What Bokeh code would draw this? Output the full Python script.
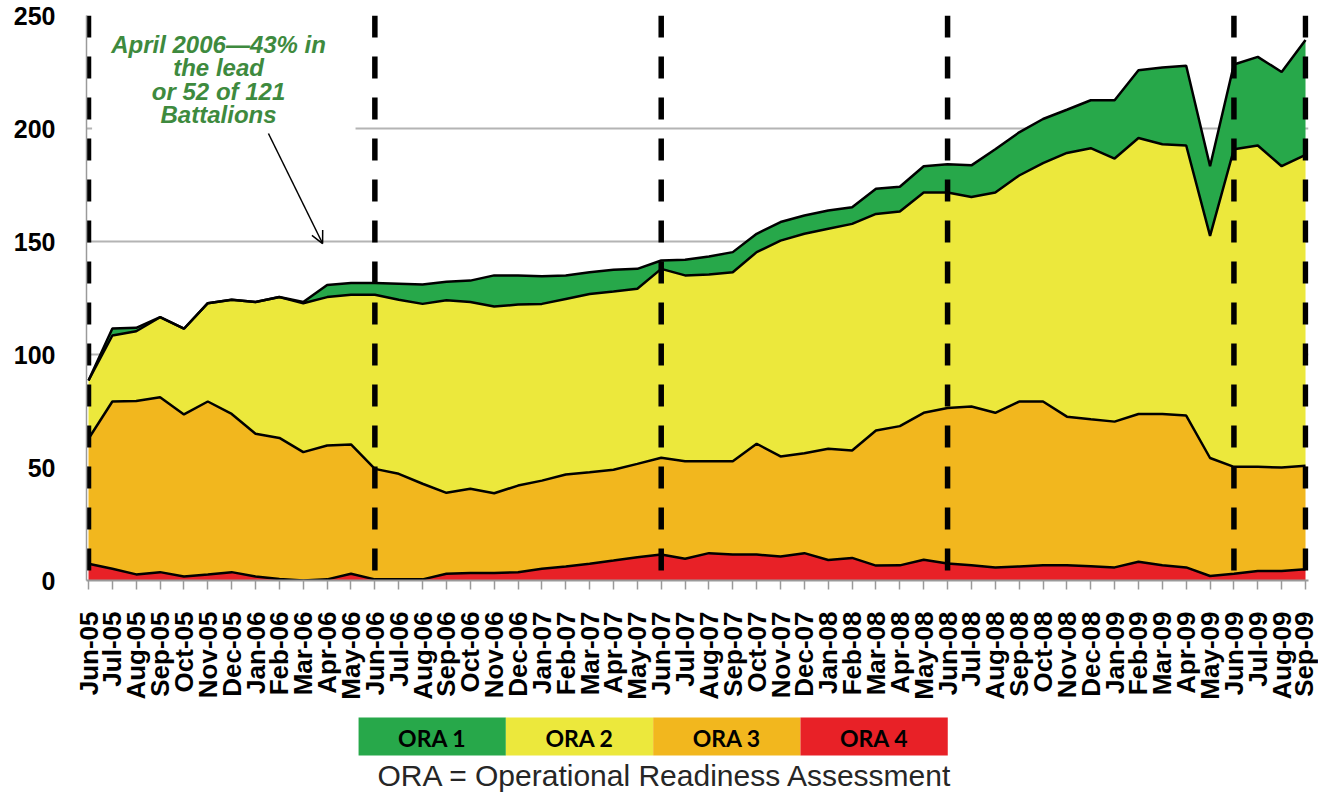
import math
import numpy as np
from bokeh.plotting import figure
from bokeh.layouts import column
from bokeh.models import Range1d, FixedTicker, ColumnDataSource, Arrow, OpenHead, BoxAnnotation
from bokeh.core.properties import value
from bokeh.embed import file_html
from bokeh.resources import INLINE

# ---------------- data ----------------
months = ["Jun-05", "Jul-05", "Aug-05", "Sep-05", "Oct-05", "Nov-05", "Dec-05",
          "Jan-06", "Feb-06", "Mar-06", "Apr-06", "May-06", "Jun-06", "Jul-06",
          "Aug-06", "Sep-06", "Oct-06", "Nov-06", "Dec-06", "Jan-07", "Feb-07",
          "Mar-07", "Apr-07", "May-07", "Jun-07", "Jul-07", "Aug-07", "Sep-07",
          "Oct-07", "Nov-07", "Dec-07", "Jan-08", "Feb-08", "Mar-08", "Apr-08",
          "May-08", "Jun-08", "Jul-08", "Aug-08", "Sep-08", "Oct-08", "Nov-08",
          "Dec-08", "Jan-09", "Feb-09", "Mar-09", "Apr-09", "May-09", "Jun-09",
          "Jul-09", "Aug-09", "Sep-09"]

ora4 = [7.4, 5.2, 2.7, 3.7, 1.8, 2.7, 3.7, 1.8, 0.7, 0.0, 0.5, 3.0, 0.5, 0.5,
        0.5, 3.0, 3.3, 3.3, 3.7, 5.2, 6.2, 7.4, 8.8, 10.3, 11.5, 9.6, 12.1, 11.5,
        11.5, 10.6, 12.1, 9.1, 10.0, 6.6, 6.7, 9.2, 7.5, 6.7, 5.8, 6.2, 6.7, 6.7,
        6.3, 5.8, 8.3, 6.7, 5.8, 2.0, 3.0, 4.2, 4.2, 5.0]
ora3 = [55.3, 74.0, 76.7, 77.4, 71.7, 76.5, 70.0, 63.1, 62.4, 56.8, 59.2, 57.2,
        48.9, 46.7, 42.3, 35.8, 37.3, 35.3, 38.3, 39.0, 40.7, 40.5, 40.2, 41.3,
        42.8, 43.2, 40.7, 41.3, 49.0, 44.3, 44.2, 49.2, 47.5, 59.8, 61.6, 65.0,
        68.8, 70.3, 68.4, 73.0, 72.5, 65.8, 65.0, 64.5, 65.4, 67.0, 67.2, 52.2,
        47.3, 46.1, 45.8, 45.8]
ora2 = [25.8, 29.2, 30.9, 35.4, 37.9, 43.5, 50.5, 58.3, 62.3, 65.9, 65.7, 66.2,
        77.0, 77.0, 79.6, 85.2, 82.6, 82.6, 80.1, 78.2, 77.7, 78.9, 78.9, 77.5,
        83.6, 82.2, 82.6, 83.6, 84.8, 95.5, 97.1, 97.3, 100.3, 95.8, 95.0, 97.5,
        95.4, 92.7, 97.5, 100.0, 105.5, 116.7, 120.0, 116.4, 122.1, 119.3, 119.5,
        98.3, 140.5, 142.2, 133.3, 137.5]
ora1 = [0.0, 3.1, 1.5, 0.0, 0.0, 0.0, 0.0, 0.0, 0.0, 0.5, 5.4, 5.2, 5.2, 7.1,
        8.6, 8.2, 9.5, 13.8, 12.9, 12.2, 10.4, 9.6, 9.6, 8.8, 3.7, 6.9, 8.0, 8.9,
        8.1, 8.2, 8.1, 8.1, 7.4, 11.1, 10.9, 11.6, 12.5, 14.0, 19.1, 19.1, 19.5,
        19.1, 21.2, 25.8, 30.0, 34.0, 35.3, 30.8, 37.5, 39.2, 41.7, 50.9]

legend_labels = ["ORA 1", "ORA 2", "ORA 3", "ORA 4"]
colors = {"ORA 1": "#27a84a", "ORA 2": "#ece83c", "ORA 3": "#f2b71e", "ORA 4": "#e82127"}
y_ticks = [0, 50, 100, 150, 200, 250]
note_text = "April 2006\u201443% in\nthe lead\nor 52 of 121\nBattalions"
caption = "ORA = Operational Readiness Assessment"

# ---------------- main chart ----------------
x = list(range(len(months)))
src = ColumnDataSource(dict(x=x, ora4=ora4, ora3=ora3, ora2=ora2, ora1=ora1))
stackers = ["ora4", "ora3", "ora2", "ora1"]
stack_colors = [colors["ORA 4"], colors["ORA 3"], colors["ORA 2"], colors["ORA 1"]]

FRAME_W = 1222
BORDER_L = 86
BORDER_R = 10

p = figure(output_backend="svg", toolbar_location=None, title=None,
           frame_width=FRAME_W, frame_height=565,
           min_border_left=BORDER_L, min_border_right=BORDER_R,
           min_border_top=15, min_border_bottom=124,
           x_range=Range1d(-0.084, 51.125), y_range=Range1d(y_ticks[0], y_ticks[-1]))
p.outline_line_color = None
p.background_fill_color = "white"

p.xgrid.visible = False
p.ygrid.ticker = FixedTicker(ticks=y_ticks)
p.ygrid.grid_line_color = "#b4b4b4"
p.ygrid.grid_line_width = 2

# white box behind the note (hides part of the 200 gridline)
p.add_layout(BoxAnnotation(left=0.15, right=11.19, bottom=185, top=240,
                           fill_color="white", fill_alpha=1.0, line_color=None,
                           level="underlay"))

p.varea_stack(stackers=stackers, x="x", color=stack_colors, source=src)
cum = np.cumsum(np.array([ora4, ora3, ora2, ora1]), axis=0)
for row in cum:
    p.line(x=x, y=row.tolist(), line_color="black", line_width=2.5)

dash_idx = [i for i, m in enumerate(months) if m.startswith("Jun")] + [len(months) - 1]
p.segment(x0=dash_idx, x1=dash_idx, y0=[y_ticks[-1]] * len(dash_idx), y1=[y_ticks[0]] * len(dash_idx),
          line_color="black", line_width=5.5, line_dash="22 19")

p.text(x=[5.45], y=[221.7], text=[note_text], text_align="center", text_baseline="middle",
       text_font=value("Liberation Sans"), text_font_style="bold italic",
       text_font_size="24px", text_color="#3e8a3e", text_line_height=0.87)
p.add_layout(Arrow(end=OpenHead(size=12, line_width=1.5, line_color="black"),
                   x_start=7.54, y_start=197.8, x_end=9.81, y_end=149.1,
                   line_width=1.5, line_color="black"))

# axes
p.xaxis.ticker = FixedTicker(ticks=x)
p.xaxis.major_label_overrides = {i: m for i, m in enumerate(months)}
p.xaxis.major_label_orientation = math.pi / 2
p.xaxis.major_label_text_font = "Liberation Sans"
p.xaxis.major_label_text_font_style = "bold"
p.xaxis.major_label_text_font_size = "26px"
p.xaxis.major_label_text_color = "black"
p.xaxis.major_tick_in = 0
p.xaxis.major_tick_out = 9
p.xaxis.major_label_standoff = 22
p.xaxis.axis_line_color = "#9a9a9a"
p.xaxis.axis_line_width = 2
p.xaxis.major_tick_line_color = "#9a9a9a"
p.xaxis.major_tick_line_width = 1.5

p.yaxis.ticker = FixedTicker(ticks=y_ticks)
p.yaxis.major_label_text_font = "Liberation Sans"
p.yaxis.major_label_text_font_style = "bold"
p.yaxis.major_label_text_font_size = "25px"
p.yaxis.major_label_text_color = "black"
p.yaxis.major_tick_in = 0
p.yaxis.major_tick_out = 0
p.yaxis.major_label_standoff = 31
p.yaxis.axis_line_color = "#9a9a9a"
p.yaxis.axis_line_width = 1.5
p.axis.minor_tick_line_color = None

# ---------------- legend strip ----------------
leg = figure(output_backend="svg", toolbar_location=None, title=None,
             frame_width=FRAME_W, frame_height=88,
             min_border_left=BORDER_L, min_border_right=BORDER_R,
             min_border_top=0, min_border_bottom=0,
             x_axis_location=None, y_axis_location=None,
             x_range=Range1d(-1.847, 6.449), y_range=Range1d(88, 0))
leg.outline_line_color = None
leg.grid.visible = False
li = list(range(len(legend_labels)))
leg.quad(left=li, right=[i + 1 for i in li], top=[13] * len(li), bottom=[51] * len(li),
         fill_color=[colors[k] for k in legend_labels], line_color=None)
leg.text(x=[i + 0.5 for i in li], y=[33] * len(li), text=legend_labels,
         text_align="center", text_baseline="middle", text_font=value("Lato"),
         text_font_style="bold", text_font_size="23px", text_color="black")
leg.text(x=[2.084], y=[71], text=[caption], text_align="center", text_baseline="middle",
         text_font=value("Liberation Sans"), text_font_size="30px", text_color="#262626")

layout = column(p, leg, spacing=0)
open("out.html", "w").write(file_html(layout, INLINE))
